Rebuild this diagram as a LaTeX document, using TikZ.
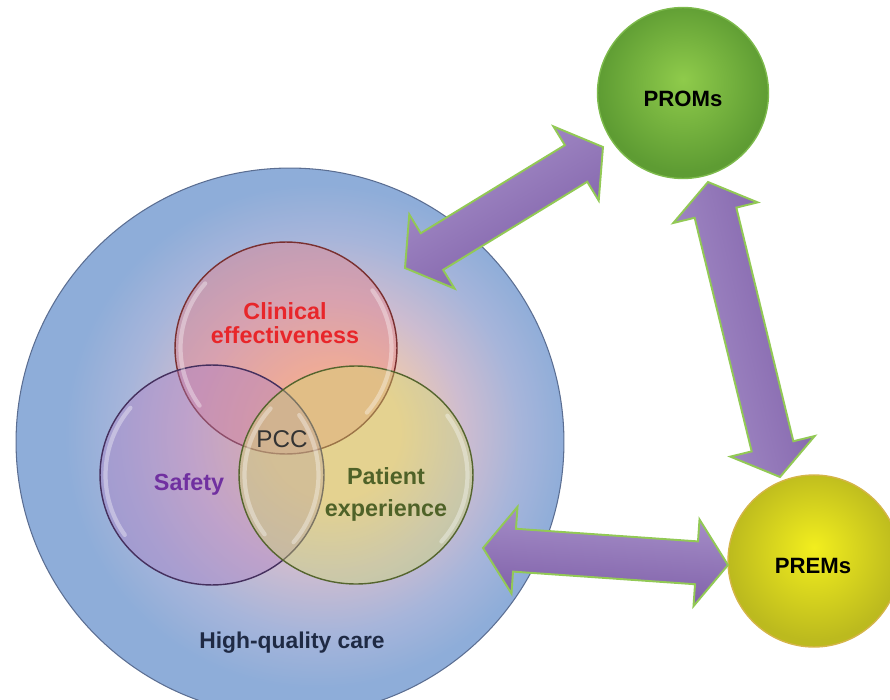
\documentclass[tikz,border=0pt]{standalone}
\usepackage{fontspec}
\setmainfont{Liberation Sans}
\usetikzlibrary{shapes.geometric,shapes.arrows,calc}

% palette
\definecolor{careblue}{HTML}{8EADD9}
\definecolor{careblueMid}{HTML}{A7B5DA}
\definecolor{carelav}{HTML}{CDBCD0}
\definecolor{carepeach}{HTML}{F3CCA8}
\definecolor{careedge}{HTML}{5B6E92}
\definecolor{vred}{HTML}{E87A80}
\definecolor{vredline}{HTML}{7A3030}
\definecolor{vpurple}{HTML}{AC7CC2}
\definecolor{vpurpleline}{HTML}{45305E}
\definecolor{vgreen}{HTML}{CFDC6C}
\definecolor{vgreenline}{HTML}{55652E}
\definecolor{txtred}{HTML}{E8262A}
\definecolor{txtpurple}{HTML}{7030A0}
\definecolor{txtolive}{HTML}{4F6228}
\definecolor{txtpcc}{HTML}{333333}
\definecolor{txtnavy}{HTML}{1F2A44}
\definecolor{promin}{HTML}{8FCB4B}
\definecolor{promout}{HTML}{5E9C33}
\definecolor{promrim}{HTML}{7DBA4C}
\definecolor{premin}{HTML}{F2EE1E}
\definecolor{premout}{HTML}{BCBA1E}
\definecolor{premrim}{HTML}{D4B548}
\definecolor{arrlight}{HTML}{A993CB}
\definecolor{arrdark}{HTML}{7C5CA6}
\definecolor{arrrim}{HTML}{92C955}

% shadings (the central 50bp square covers the shaded path)
\pgfdeclareradialshading{careglow}{\pgfpoint{4.5bp}{1bp}}{%
  color(0bp)=(carepeach); color(6bp)=(carepeach); color(12.5bp)=(carelav);
  color(18bp)=(careblueMid); color(23bp)=(careblue); color(50bp)=(careblue)}
\pgfdeclareradialshading{promglow}{\pgfpoint{0bp}{4bp}}{%
  color(0bp)=(promin); color(25bp)=(promout); color(50bp)=(promout)}
\pgfdeclareradialshading{premglow}{\pgfpoint{0bp}{4bp}}{%
  color(0bp)=(premin); color(25bp)=(premout); color(50bp)=(premout)}

\tikzset{
  bigdisc/.style={circle, inner sep=0pt, outer sep=0pt, shade, line width=0.8pt},
  venn/.style={ellipse, inner sep=0pt, outer sep=0pt, fill opacity=0.4, line width=0.8pt},
  gloss/.style={white, opacity=0.35, line width=2.4pt, line cap=round},
  twoway/.style={double arrow, double arrow tip angle=108,
    double arrow head extend=0.44cm, inner xsep=0pt, inner ysep=0.41cm,
    minimum width=1.7cm, outer sep=0pt, top color=arrlight, bottom color=arrdark,
    draw=arrrim, line width=1.1pt},
  lbl/.style={inner sep=0pt, align=center, font=\bfseries\fontsize{13.3}{13.7}\selectfont},
  ball/.style={inner sep=0pt, font=\bfseries\fontsize{12.6}{13}\selectfont, text=black}
}

% fat two-headed arrow between two named points, lighter on its left flank
\newcommand\twowayarrow[2]{%
  \path let \p1=($(#2)-(#1)$), \n1={atan2(\y1,\x1)}, \n2={veclen(\x1,\y1)} in
    node[twoway, rotate=\n1, shading angle=\n1, minimum height=\n2]
      at ($(#1)!0.5!(#2)$) {};}

\begin{document}
\begin{tikzpicture}[x=0.02cm, y=-0.02cm]
  \useasboundingbox (0,0) rectangle (890,700);

  % high-quality care disc
  \node[bigdisc, shading=careglow, draw=careedge, line width=0.6pt,
        minimum size=10.96cm] (care) at (290,442) {};

  % the three overlapping circles
  \node[venn, fill=vred, draw=vredline, minimum width=4.44cm, minimum height=4.24cm]
    (clin) at (286,348) {};
  \node[venn, fill=vpurple, draw=vpurpleline, minimum width=4.48cm, minimum height=4.40cm]
    (safe) at (212,475) {};
  \node[venn, fill=vgreen, draw=vgreenline, minimum width=4.68cm, minimum height=4.36cm]
    (pexp) at (356,475) {};

  % glassy highlights inside the circles
  \foreach \n/\rx/\ry in {clin/2.11/2.01, safe/2.13/2.09, pexp/2.23/2.07}{
    \draw[gloss] ([shift={(\n.center)}]140:\rx cm and \ry cm)
      arc[start angle=140, end angle=215, x radius=\rx cm, y radius=\ry cm];
    \draw[gloss] ([shift={(\n.center)}]-40:\rx cm and \ry cm)
      arc[start angle=-40, end angle=35, x radius=\rx cm, y radius=\ry cm];
  }

  % labels
  \node[lbl, text=txtred] (clinlbl) at (285,323) {Clinical\\effectiveness};
  \node[lbl, text=txtpurple, anchor=base] (safelbl) at (189,490) {Safety};
  \node[lbl, text=txtolive, font=\bfseries\fontsize{13.3}{18.2}\selectfont]
    (pexplbl) at (386,494) {Patient\\experience};
  \node[inner sep=0pt, anchor=base, text=txtpcc, font=\fontsize{13.8}{14}\selectfont]
    (pcc) at (282,447) {PCC};
  \node[lbl, text=txtnavy, anchor=base, font=\bfseries\fontsize{13}{14}\selectfont]
    (carelbl) at (292,648) {High-quality care};

  % measure discs
  \node[bigdisc, shading=promglow, draw=promrim, minimum size=3.42cm] (proms) at (683,93) {};
  \node[bigdisc, shading=premglow, draw=premrim, minimum size=3.44cm] (prems) at (814,561) {};
  \node[ball, anchor=base] (promslbl) at (683,106) {PROMs};
  \node[ball, anchor=base] (premslbl) at (813,573) {PREMs};

  % arrow end points
  \coordinate (care-prom) at (405,268);
  \coordinate (prom-care) at (603,147);
  \coordinate (prem-prom) at (780,477);
  \coordinate (prom-prem) at (708,182);
  \coordinate (care-prem) at (483,548);
  \coordinate (prem-care) at (728,565);

  \twowayarrow{care-prom}{prom-care}
  \twowayarrow{prem-prom}{prom-prem}
  \twowayarrow{care-prem}{prem-care}
\end{tikzpicture}
\end{document}
